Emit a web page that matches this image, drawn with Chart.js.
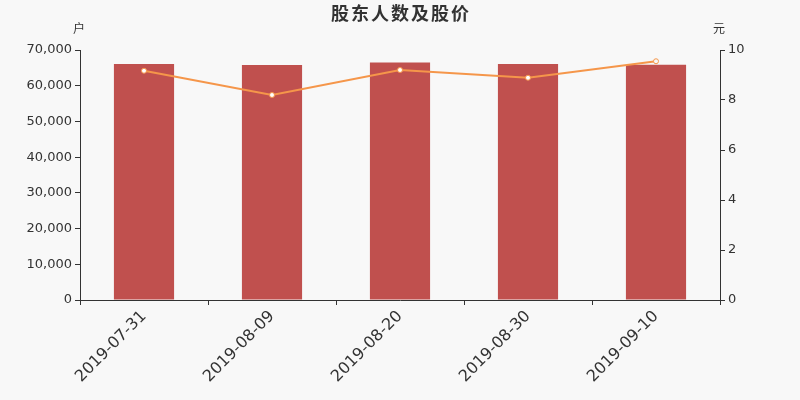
<!DOCTYPE html>
<html>
<head>
<meta charset="utf-8">
<script src="https://cdn.jsdelivr.net/npm/chart.js@4/dist/chart.umd.min.js"></script>
<style>
  html, body { margin: 0; padding: 0; background: #f8f8f8; }
  #wrap { width: 800px; height: 400px; }
</style>
</head>
<body>
<div id="wrap"><canvas id="chart"></canvas></div>
<script>
let categories = ['2019-07-31', '2019-08-09', '2019-08-20', '2019-08-30', '2019-09-10'];
let holders = [66100, 65800, 66500, 66100, 65900]; // 股东人数（户）
let prices = [9.17, 8.2, 9.2, 8.89, 9.55]; // 股价（元）
let leftTicks = [0, 10000, 20000, 30000, 40000, 50000, 60000, 70000];
let rightTicks = [0, 2, 4, 6, 8, 10];

let ctx = document.getElementById('chart').getContext('2d');

// 标题和单位
let textPlugin = {
    id: 'texts',
    afterDraw(chart) {
        let c = chart.ctx;
        c.save();
        c.fillStyle = '#333';
        c.textAlign = 'center';
        c.textBaseline = 'middle';
        c.font = 'bold 18px "Noto Sans CJK SC"';
        c.letterSpacing = '2px';
        c.fillText('股东人数及股价', 401, 13);
        c.letterSpacing = '0px';
        c.font = '12px "Noto Sans CJK SC"';
        c.fillText('户', 79, 28);
        c.fillText('元', 719, 28);
        c.restore();
    }
};

let axisColor = '#333';

let chart = new Chart(ctx, {
    type: 'bar',
    data: {
        labels: categories,
        datasets: [{
            type: 'line',
            label: '股价',
            data: prices,
            yAxisID: 'y1',
            borderColor: '#f5964a',
            borderWidth: 2,
            pointRadius: 2.5,
            pointBorderWidth: 1,
            pointBackgroundColor: ['#fff', '#fff', '#fff', '#fff', '#f8f8f8'],
            pointBorderColor: '#f5964a',
            tension: 0,
            order: 0
        }, {
            label: '股东人数',
            data: holders,
            yAxisID: 'y',
            backgroundColor: '#c0504e',
            categoryPercentage: 1,
            barPercentage: 0.47,
            order: 1
        }]
    },
    options: {
        responsive: true,
        maintainAspectRatio: false,
        animation: false,
        layout: { padding: { top: 50, left: 0, right: 0, bottom: 0 } },
        plugins: {
            legend: { display: false },
            tooltip: { enabled: false }
        },
        scales: {
            x: {
                offset: true,
                grid: { offset: true, drawOnChartArea: false, color: axisColor, tickLength: 5 },
                border: { color: axisColor, width: 1 },
                ticks: {
                    color: '#333',
                    font: { family: 'DejaVu Sans', size: 16 },
                    maxRotation: 45,
                    minRotation: 45,
                    padding: 2
                },
                afterFit(s) { s.height = 100; }
            },
            y: {
                position: 'left',
                min: 0,
                max: 70000,
                afterBuildTicks(s) { s.ticks = leftTicks.map(v => ({ value: v })); },
                grid: { drawOnChartArea: false, color: axisColor, tickLength: 5 },
                border: { color: axisColor, width: 1 },
                ticks: {
                    color: '#333',
                    font: { family: 'DejaVu Sans', size: 13 },
                    padding: 3,
                    callback: v => v.toLocaleString('en-US')
                },
                afterFit(s) { s.width = 80; }
            },
            y1: {
                position: 'right',
                min: 0,
                max: 10,
                afterBuildTicks(s) { s.ticks = rightTicks.map(v => ({ value: v })); },
                grid: { drawOnChartArea: false, color: axisColor, tickLength: 5 },
                border: { color: axisColor, width: 1 },
                ticks: {
                    color: '#333',
                    font: { family: 'DejaVu Sans', size: 13 },
                    padding: 3
                },
                afterFit(s) { s.width = 80; }
            }
        }
    },
    plugins: [textPlugin]
});
</script>
</body>
</html>
